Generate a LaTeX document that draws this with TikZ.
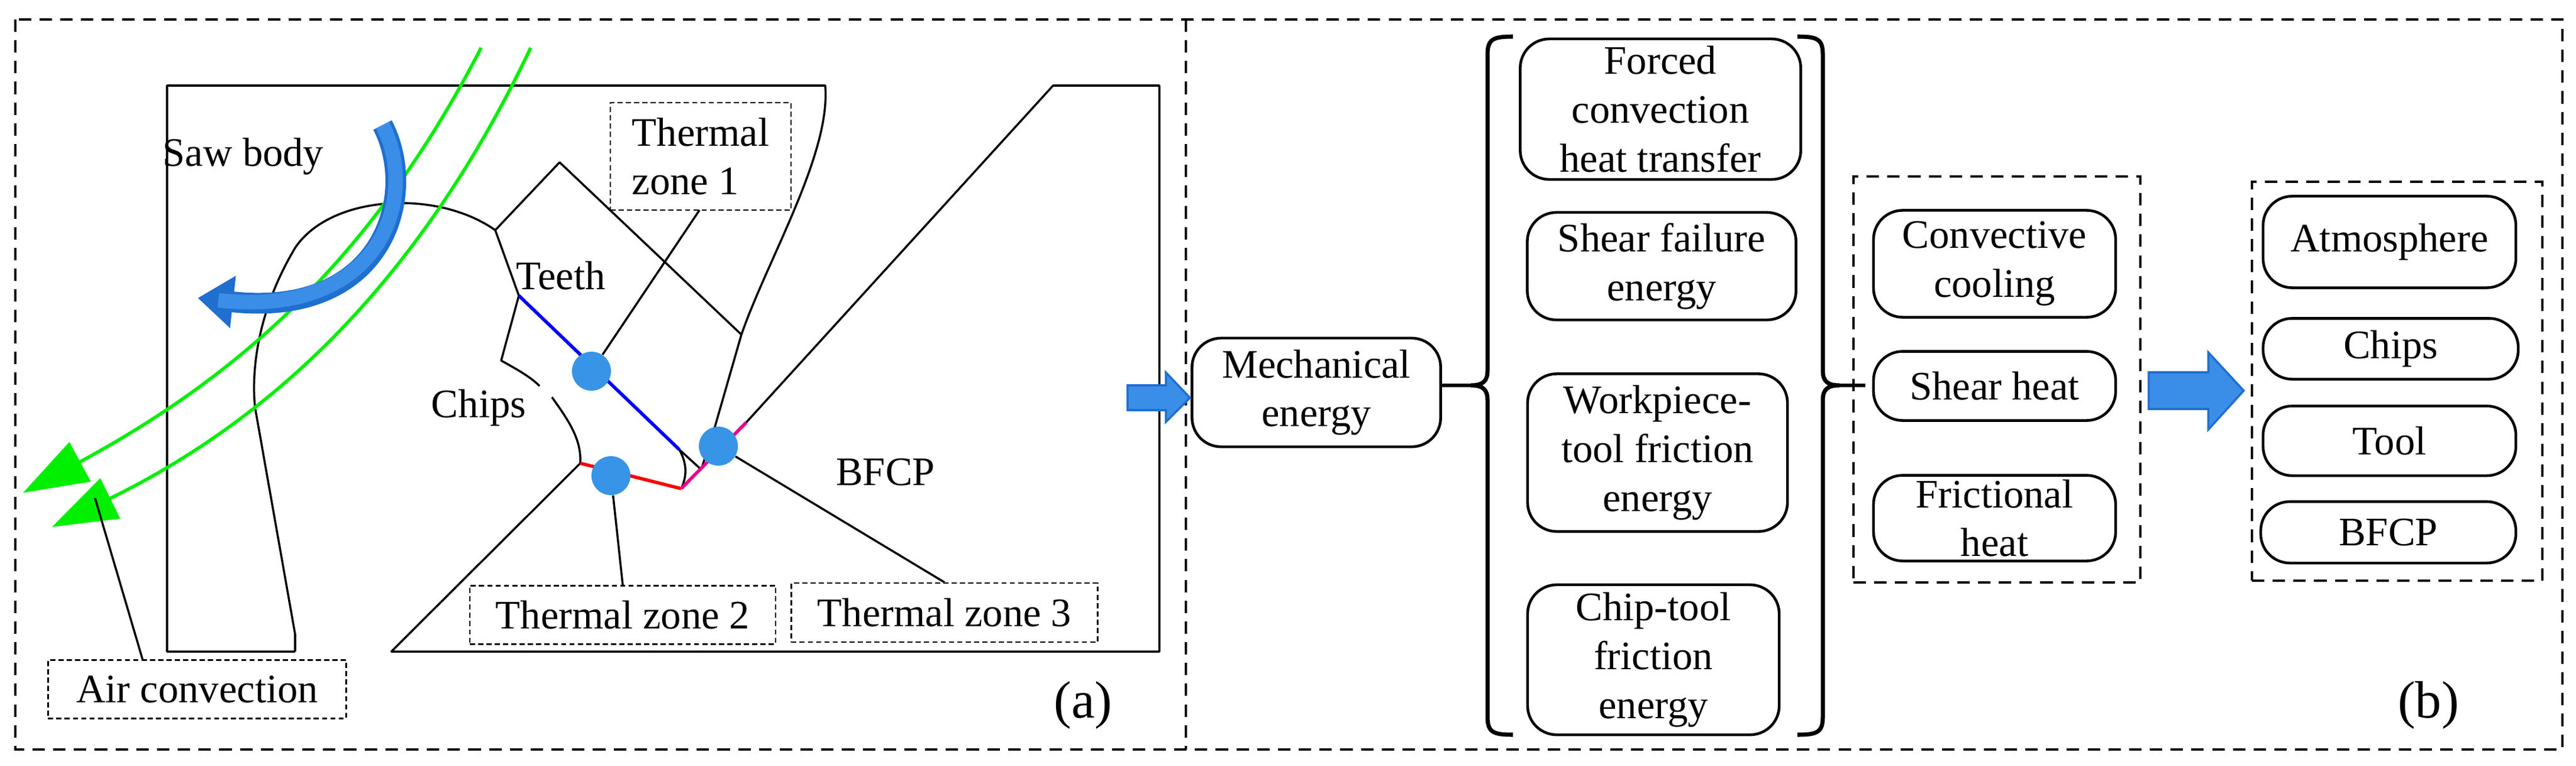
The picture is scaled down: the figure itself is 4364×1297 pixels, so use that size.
\documentclass[tikz,border=0pt]{standalone}
\usepackage{fontspec}
\setmainfont{Liberation Serif}[Renderer=OpenType]
\usetikzlibrary{arrows.meta}
\definecolor{dotblue}{HTML}{3894E6}
\definecolor{arrblue}{HTML}{3A8EE6}
\definecolor{arredge}{HTML}{1E6FD0}
\definecolor{grn}{HTML}{00F000}
\begin{document}
\fontsize{19.5}{23.5}\selectfont
\begin{tikzpicture}[x=0.01cm,y=-0.01cm,
  txt/.style={},
  geo/.style={line width=1pt,line join=round},
  tz/.style={txt,draw,line width=0.7pt,dash pattern=on 2.5pt off 1.5pt,inner sep=0pt},
  rbox/.style={txt,draw,line width=1.3pt,rounded corners=14pt,align=center,inner sep=0pt},
  panel/.style={line width=1pt,dash pattern=on 6pt off 4pt},
  dot/.style={circle,fill=dotblue,minimum size=0.66cm,inner sep=0pt},
  block/.style={fill=arrblue,draw=arredge,line width=1pt},
  lab/.style={scale=1.3},
  grnarr/.style={grn,line width=1.6pt,-{Triangle[length=1.1cm,width=0.75cm]}}]
\useasboundingbox (0,0) rectangle (4364,1297);
% ---------- panel (b) boxes first ----------
\node[rbox,minimum width=4.21cm,minimum height=1.84cm] (mech) at (2230,665) {Mechanical\\energy};
\node[rbox,minimum width=4.75cm,minimum height=2.38cm] (forced) at (2813,185) {Forced\\convection\\heat transfer};
\node[rbox,minimum width=4.55cm,minimum height=1.82cm] (shear) at (2815,451) {Shear failure\\energy};
\node[rbox,minimum width=4.40cm,minimum height=2.67cm] (work) at (2808,767) {Workpiece-\\tool friction\\energy};
\node[rbox,minimum width=4.26cm,minimum height=2.54cm] (chiptool) at (2801,1118) {Chip-tool\\friction\\energy};
\node[draw,panel,minimum width=4.86cm,minimum height=6.88cm] (heatgrp) at (3383,643) {};
\node[rbox,minimum width=4.10cm,minimum height=1.81cm] (conv) at (3379,447) {Convective\\cooling};
\node[rbox,minimum width=4.10cm,minimum height=1.17cm] (sheat) at (3379,654) {Shear heat};
\node[rbox,minimum width=4.10cm,minimum height=1.45cm] (fric) at (3379,878) {Frictional\\heat};
\node[draw,panel,minimum width=4.92cm,minimum height=6.76cm] (sinkgrp) at (4061,646) {};
\node[rbox,minimum width=4.28cm,minimum height=1.55cm] (atm) at (4048,410) {Atmosphere};
\node[rbox,minimum width=4.32cm,minimum height=1.03cm] (schips) at (4050,591) {Chips};
\node[rbox,minimum width=4.28cm,minimum height=1.18cm] (tool) at (4048,747) {Tool};
\node[rbox,minimum width=4.32cm,minimum height=1.04cm] (sbfcp) at (4046,902) {BFCP};
\node[lab] (lb2) at (4114,1195) {(b)};

% panels
\draw[panel] (26,33) rectangle (4341,1270);
\draw[panel] (2009,33) -- (2009,1270);

% ---------- panel (a) ----------
\draw[geo] (500,1104) -- (283,1104) -- (283,145) -- (1398,145)
  .. controls (1408,260) and (1300,440) .. (1256,567) -- (1210,727) -- (1190,789);
\draw[geo] (839,390) .. controls (740,320) and (560,330) .. (500,420)
  .. controls (440,520) and (425,620) .. (432,690) -- (500,1075) -- (500,1104);
\draw[geo] (839,390) -- (948,275) -- (1256,567);
\draw[geo] (839,390) -- (879,501) -- (849,611) .. controls (880,628) and (900,640) .. (914,654);
\draw[geo] (935,673) .. controls (965,715) and (985,745) .. (983,785);
\draw[geo] (1151,762) .. controls (1166,790) and (1162,810) .. (1154,828);
\draw[geo] (1151,762) -- (1185,793);
\draw[geo] (1264,716) -- (1784,145) -- (1964,145) -- (1964,1104) -- (663,1104) -- (983,785);
\draw[blue,line width=1.6pt] (879,501) -- (1151,762);
\draw[red,line width=1.6pt] (983,785) -- (1154,828);
\draw[magenta,line width=1.6pt] (1154,828) -- (1264,716);

\draw[grnarr] (815,81) .. controls (620,460) and (380,650) .. (39,835);
\draw[grnarr] (899,81) .. controls (700,500) and (440,720) .. (88,893);

\draw[arredge,line width=10pt,-{Triangle[length=0.6cm,width=0.85cm]}]
  (648,212) .. controls (710,330) and (650,540) .. (335,505);
\draw[arrblue,line width=7pt,shorten >=0.35cm]
  (648,212) .. controls (710,330) and (650,540) .. (335,505);

\node[dot] (d1) at (1002,629) {};
\node[dot] (d2) at (1035,806) {};
\node[dot] (d3) at (1217,756) {};

\node[txt] (saw) at (412,265) {Saw body};
\node[txt] (teeth) at (950,467) {Teeth};
\node[txt] (chips) at (811,691) {Chips};
\node[txt] (bfcp) at (1500,800) {BFCP};
\node[tz,minimum width=3.06cm,minimum height=1.82cm,align=left] (tz1) at (1187,265) {Thermal\\zone 1};
\node[tz,minimum width=5.18cm,minimum height=0.99cm] (tz2) at (1055,1042) {Thermal zone 2};
\node[tz,minimum width=5.19cm,minimum height=1.0cm] (tz3) at (1600,1038) {Thermal zone 3};
\node[tz,minimum width=5.05cm,minimum height=0.99cm] (air) at (334,1168) {Air convection};
\coordinate (airpt) at (161,844);
\coordinate (t1) at (1185,356);
\draw[geo] (t1) -- (d1);
\draw[geo] (tz2.north) -- (d2);
\draw[geo] (tz3.north) -- (d3);
\coordinate (a1) at (242,1119);
\draw[geo] (a1) -- (airpt);
\node[lab] (la) at (1835,1195) {(a)};

\fill[block] (1910,653)--(1975,653)--(1975,631)--(2016,674)--(1975,715)--(1975,695)--(1910,695)--cycle;
\fill[block] (3640,631)--(3741,631)--(3741,597)--(3801,662)--(3741,728)--(3741,693)--(3640,693)--cycle;

% braces
\coordinate (lb) at (2492,653);
\coordinate (rb) at (3116,653);
\draw[line width=2pt] (2563,62) .. controls (2530,62) and (2520,66) .. (2520,92) -- (2520,628)
  .. controls (2520,646) and (2512,653) .. (lb) .. controls (2512,653) and (2520,660) .. (2520,678)
  -- (2520,1215) .. controls (2520,1241) and (2530,1245) .. (2563,1245);
\draw[line width=2pt] (3045,62) .. controls (3078,62) and (3088,66) .. (3088,92) -- (3088,628)
  .. controls (3088,646) and (3096,653) .. (rb) .. controls (3096,653) and (3088,660) .. (3088,678)
  -- (3088,1215) .. controls (3088,1241) and (3078,1245) .. (3045,1245);
\draw[line width=1.8pt] (mech.east |- lb) -- (lb);
\coordinate (rbend) at (3160,653);
\draw[line width=1.8pt] (rb) -- (rbend);
\end{tikzpicture}
\end{document}
